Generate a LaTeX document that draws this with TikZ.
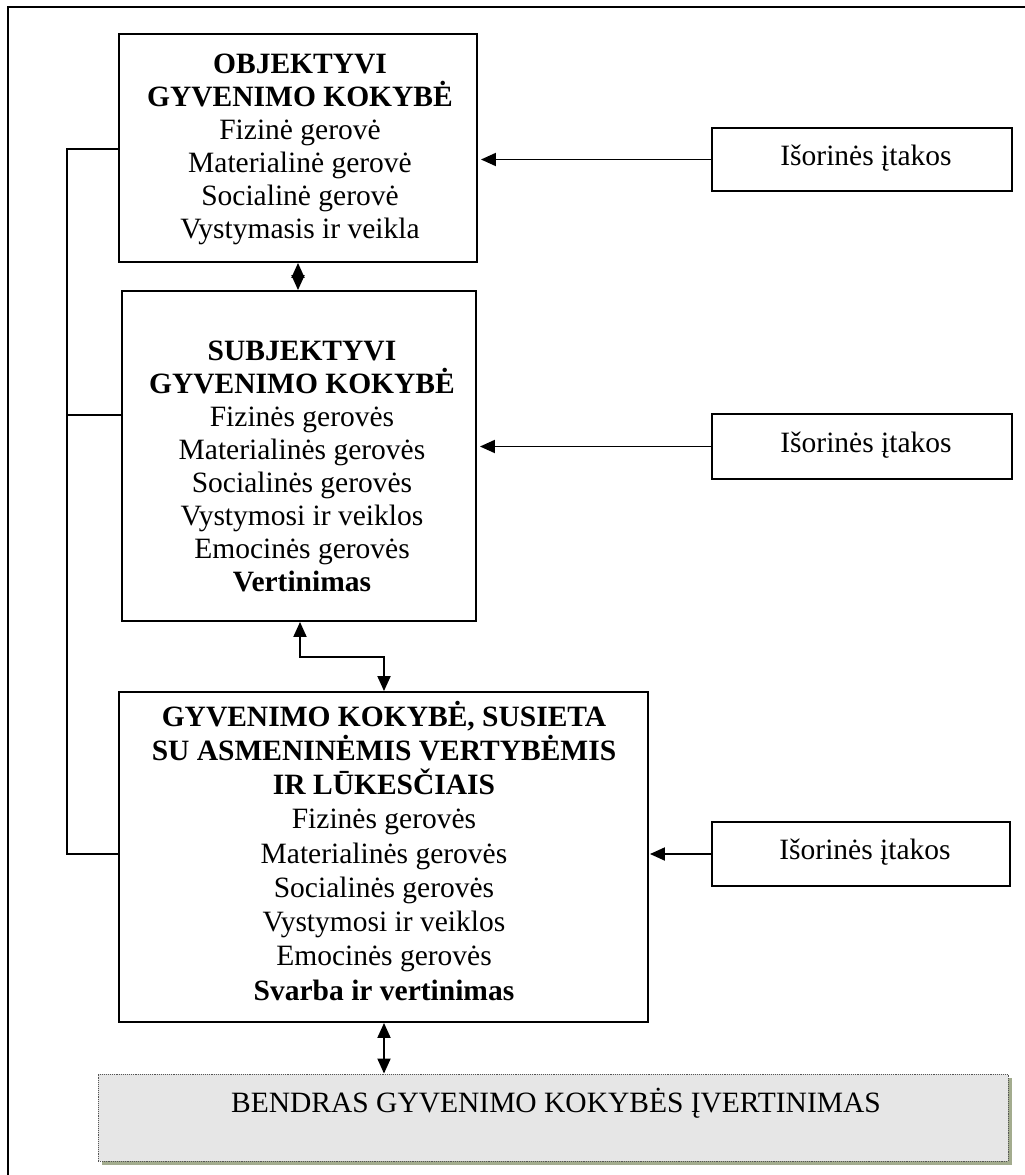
\documentclass[tikz,border=0pt]{standalone}
\usepackage{fontspec}
\setmainfont{Liberation Serif}
\usetikzlibrary{arrows.meta}
\definecolor{panelgray}{HTML}{E6E6E6}
\definecolor{panelshade}{HTML}{A3AC8E}
\definecolor{dotline}{HTML}{555555}
\begin{document}
\begin{tikzpicture}[x=1pt,y=-1pt,
  box/.style={draw, line width=1.9pt, rectangle, inner sep=0pt, fill=white},
  ln/.style={anchor=base, inner sep=0pt, font=\fontsize{29.5}{33}\selectfont},
  lb/.style={anchor=base, inner sep=0pt, font=\fontsize{29.5}{33}\selectfont\bfseries},
  link/.style={line width=1.9pt},
  arr/.style={line width=1.9pt, -{Triangle[length=15pt,width=13pt]}},
  darr/.style={line width=1.9pt, {Triangle[length=15pt,width=13pt]}-{Triangle[length=15pt,width=13pt]}},
]
\useasboundingbox (0,0) rectangle (1025,1175);
\clip (0,0) rectangle (1025,1175);

% page frame
\draw[line width=1.5pt] (8,1200) -- (8,7) -- (1045,7);

% main boxes
\node[box, minimum width=358pt, minimum height=228pt] (b1) at (298,148) {};
\node[box, minimum width=354pt, minimum height=330pt] (b2) at (299,456) {};
\node[box, minimum width=529pt, minimum height=330pt] (b3) at (383.5,857) {};

% influence boxes
\node[box, minimum width=300pt, minimum height=63pt] (ia) at (862,159.5) {};
\node[box, minimum width=300pt, minimum height=65pt] (ib) at (862,446.5) {};
\node[box, minimum width=298pt, minimum height=64pt] (ic) at (861,854) {};
\node[ln] (iat) at (866,165) {Išorinės įtakos};
\node[ln] (ibt) at (866,452) {Išorinės įtakos};
\node[ln] (ict) at (865,859.5) {Išorinės įtakos};

% overall assessment panel
\node[fill=panelshade, minimum width=910pt, minimum height=87pt, inner sep=0pt] (gsh) at (557,1121.5) {};
\node[fill=panelgray, draw=dotline, densely dotted, line width=0.9pt,
      minimum width=910pt, minimum height=87pt, inner sep=0pt] (g) at (553,1117.5) {};
\node[ln] (gt) at (556,1112) {BENDRAS GYVENIMO KOKYBĖS ĮVERTINIMAS};

% box 1 text
\node[lb] (b1l1) at (300,73) {OBJEKTYVI};
\node[lb] (b1l2) at (300,106) {GYVENIMO KOKYBĖ};
\node[ln] (b1l3) at (300,139) {Fizinė gerovė};
\node[ln] (b1l4) at (300,172) {Materialinė gerovė};
\node[ln] (b1l5) at (300,205) {Socialinė gerovė};
\node[ln] (b1l6) at (300,238) {Vystymasis ir veikla};

% box 2 text
\node[lb] (b2l1) at (302,360) {SUBJEKTYVI};
\node[lb] (b2l2) at (302,393) {GYVENIMO KOKYBĖ};
\node[ln] (b2l3) at (302,426) {Fizinės gerovės};
\node[ln] (b2l4) at (302,459) {Materialinės gerovės};
\node[ln] (b2l5) at (302,492) {Socialinės gerovės};
\node[ln] (b2l6) at (302,525) {Vystymosi ir veiklos};
\node[ln] (b2l7) at (302,558) {Emocinės gerovės};
\node[lb] (b2l8) at (302,591) {Vertinimas};

% box 3 text
\node[lb] (b3l1) at (384,726) {GYVENIMO KOKYBĖ, SUSIETA};
\node[lb] (b3l2) at (384,760.25) {SU ASMENINĖMIS VERTYBĖMIS};
\node[lb] (b3l3) at (384,794.5) {IR LŪKESČIAIS};
\node[ln] (b3l4) at (384,828.75) {Fizinės gerovės};
\node[ln] (b3l5) at (384,863) {Materialinės gerovės};
\node[ln] (b3l6) at (384,897.25) {Socialinės gerovės};
\node[ln] (b3l7) at (384,931.5) {Vystymosi ir veiklos};
\node[ln] (b3l8) at (384,965.75) {Emocinės gerovės};
\node[lb] (b3l9) at (384,1000) {Svarba ir vertinimas};

% external influences
\draw[arr, shorten >=3pt] (ia.west) -- (ia.west -| b1.east);
\draw[arr, shorten >=3pt] (ib.west) -- (ib.west -| b2.east);
\draw[arr, shorten >=1pt] (ic.west) -- (ic.west -| b3.east);

% vertical links between levels
\draw[darr] (b1.south) -- (b1.south |- b2.north);
\coordinate (k1) at (300,657);
\coordinate (k2) at (384,657);
\draw[darr] (k1 |- b2.south) -- (k1) -- (k2) -- (k2 |- b3.north);
\draw[darr] (k2 |- b3.south) -- (k2 |- g.north);

% left feedback line
\coordinate (l1) at (67,149);
\coordinate (l2) at (67,415);
\coordinate (l3) at (67,854);
\draw[link] (l1 -| b1.west) -- (l1) -- (l3) -- (l3 -| b3.west);
\draw[link] (l2) -- (l2 -| b2.west);
\end{tikzpicture}
\end{document}
